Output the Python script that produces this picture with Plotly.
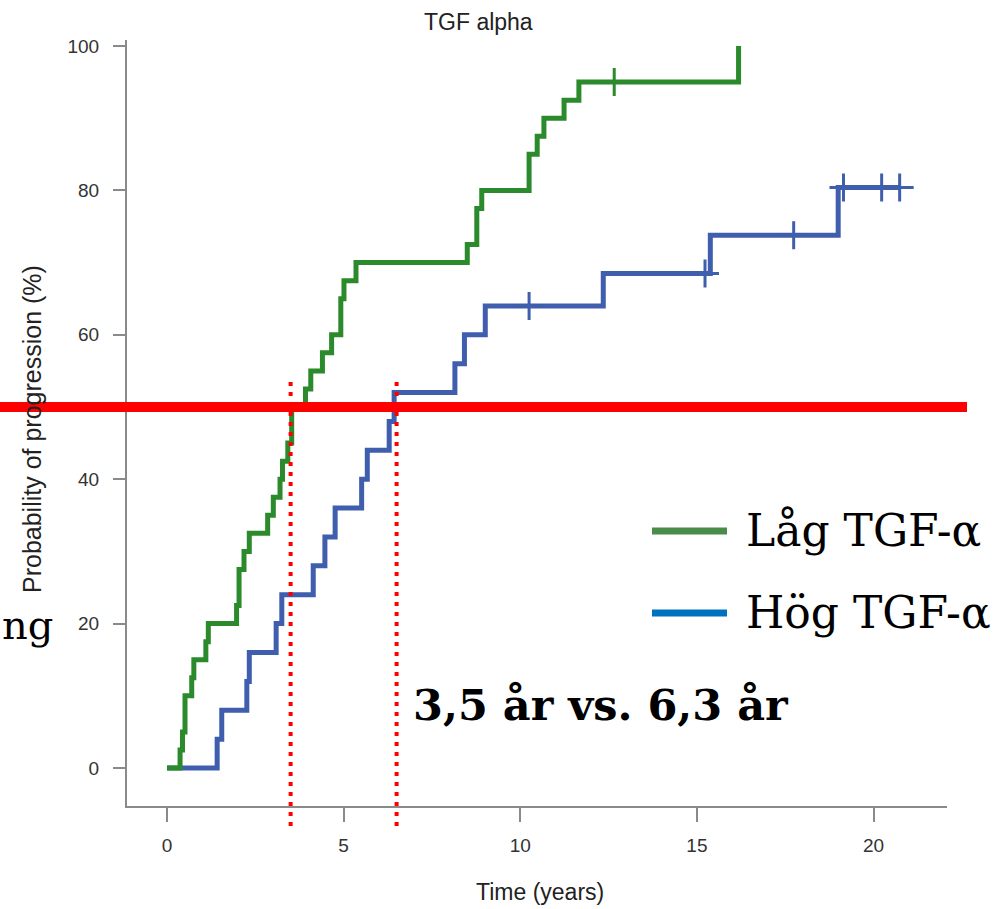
import plotly.graph_objects as go

# ---------------- data ----------------
green_t = [0, 0.37, 0.44, 0.51, 0.70, 0.76, 1.10, 1.17, 1.97, 2.04, 2.18, 2.33, 2.85, 3.01,
           3.20, 3.27, 3.42, 3.53, 3.92, 4.07, 4.40, 4.66, 4.92, 5.01, 5.35, 8.50, 8.77,
           8.91, 10.25, 10.48, 10.67, 11.24, 11.66, 16.18]
green_p = [0, 2.5, 5, 10, 12.5, 15, 17.5, 20, 22.5, 27.5, 30, 32.5, 35, 37.5,
           40, 42.5, 45, 50, 52.5, 55, 57.5, 60, 65, 67.5, 70, 72.5, 77.5,
           80, 85, 87.5, 90, 92.5, 95, 100]
green_cens_t = [12.66]

blue_t = [0, 1.42, 1.55, 2.26, 2.33, 3.09, 3.25, 4.14, 4.47, 4.76, 5.51, 5.67, 6.29, 6.43,
          8.15, 8.42, 9.01, 12.35, 15.38, 19.0, 20.74]
blue_p = [0, 4, 8, 12, 16, 20, 24, 28, 32, 36, 40, 44, 48, 52,
          56, 60, 64, 68.5, 73.8, 80.4, 80.4]
blue_cens_t = [10.25, 15.23, 17.74, 19.15, 20.23, 20.74]

x_ticks = [0, 5, 10, 15, 20]
y_ticks = [0, 20, 40, 60, 80, 100]

median_low = 3.5
median_high = 6.5
threshold = 50

title_text = "TGF alpha"
x_title = "Time (years)"
y_title = "Probability of progression (%)"
legend_labels = ["Låg TGF-α", "Hög TGF-α"]
median_text = "3,5 år vs. 6,3 år"
cut_text = "ng"

# ---------------- layout geometry ----------------
W, H = 1004, 909
L, R, T, B = 127, 947, 40, 806  # plot area in px
x_range = [-1.132, 22.08]
y_range = [-5.26, 100.83]

GREEN = "#2B8A2B"
BLUE = "#3F5EAD"
AXIS = "#8a8a8a"


def px_x(px):
    return (px - L) / (R - L)


def px_y(py):
    return (B - py) / (B - T)


def dx(v):
    return (v - x_range[0]) / (x_range[1] - x_range[0])


def dy(v):
    return (v - y_range[0]) / (y_range[1] - y_range[0])


def step_value(ts, ps, t):
    val = ps[0]
    for ti, pi in zip(ts, ps):
        if ti <= t:
            val = pi
    return val


fig = go.Figure()

fig.add_trace(go.Scatter(x=blue_t, y=blue_p, mode="lines", line=dict(color=BLUE, width=5, shape="hv"),
                         showlegend=False, hoverinfo="skip"))
fig.add_trace(go.Scatter(x=green_t, y=green_p, mode="lines", line=dict(color=GREEN, width=5, shape="hv"),
                         showlegend=False, hoverinfo="skip"))
fig.add_trace(go.Scatter(x=blue_cens_t, y=[step_value(blue_t, blue_p, t) for t in blue_cens_t],
                         mode="markers", marker=dict(symbol="cross-thin", size=20,
                                                     line=dict(color=BLUE, width=3)),
                         showlegend=False, hoverinfo="skip", cliponaxis=False))
fig.add_trace(go.Scatter(x=green_cens_t, y=[step_value(green_t, green_p, t) for t in green_cens_t],
                         mode="markers", marker=dict(symbol="cross-thin", size=20,
                                                     line=dict(color=GREEN, width=3)),
                         showlegend=False, hoverinfo="skip", cliponaxis=False))

tickfont = dict(family="Liberation Sans, Arial, sans-serif", size=19, color="#333333")
fig.update_xaxes(range=x_range, tickvals=x_ticks, showgrid=False, zeroline=False,
                 showline=True, linecolor=AXIS, linewidth=2, ticks="outside", ticklen=14,
                 tickwidth=2, tickcolor=AXIS, tickfont=tickfont, ticklabelstandoff=7)
fig.update_yaxes(range=y_range, tickvals=y_ticks, showgrid=False, zeroline=False,
                 showline=True, linecolor=AXIS, linewidth=2, ticks="outside", ticklen=12,
                 tickwidth=2, tickcolor=AXIS, tickfont=tickfont, ticklabelstandoff=10)

shapes = []
# red threshold line
shapes.append(dict(type="line", xref="paper", yref="paper", x0=px_x(0), x1=px_x(967),
                   y0=dy(threshold), y1=dy(threshold), line=dict(color="#FF0000", width=10)))
# dotted median lines
for m in (median_low, median_high):
    shapes.append(dict(type="line", xref="paper", yref="paper", x0=dx(m), x1=dx(m),
                       y0=px_y(826), y1=px_y(382),
                       line=dict(color="#FF0000", width=4, dash="4px,6px")))
# legend swatches
shapes.append(dict(type="line", xref="paper", yref="paper", x0=px_x(652), x1=px_x(727),
                   y0=px_y(531), y1=px_y(531), line=dict(color="#4A8C4A", width=7)))
shapes.append(dict(type="line", xref="paper", yref="paper", x0=px_x(652), x1=px_x(727),
                   y0=px_y(613), y1=px_y(613), line=dict(color="#0070C0", width=7)))

serif = "DejaVu Serif, Liberation Serif, serif"
sans = "Liberation Sans, Arial, sans-serif"
annotations = [
    dict(text=title_text, x=px_x(478), y=px_y(22), xref="paper", yref="paper", showarrow=False,
         xanchor="center", yanchor="middle", font=dict(family=sans, size=23, color="#222222")),
    dict(text=x_title, x=px_x(540), y=px_y(892), xref="paper", yref="paper", showarrow=False,
         xanchor="center", yanchor="middle", font=dict(family=sans, size=23, color="#222222")),
    dict(text=y_title, x=px_x(32), y=px_y(429), xref="paper", yref="paper", showarrow=False,
         textangle=-90, xanchor="center", yanchor="middle",
         font=dict(family=sans, size=25, color="#222222")),
    dict(text=legend_labels[0], x=px_x(744), y=px_y(530), xref="paper", yref="paper", showarrow=False,
         xanchor="left", yanchor="middle", font=dict(family=serif, size=44, color="#000000")),
    dict(text=legend_labels[1], x=px_x(744), y=px_y(612), xref="paper", yref="paper", showarrow=False,
         xanchor="left", yanchor="middle", font=dict(family=serif, size=44, color="#000000")),
    dict(text="<b>" + median_text + "</b>", x=px_x(601), y=px_y(705), xref="paper", yref="paper",
         showarrow=False, xanchor="center", yanchor="middle",
         font=dict(family=serif, size=43, color="#000000")),
    dict(text=cut_text, x=px_x(55), y=px_y(625), xref="paper", yref="paper", showarrow=False,
         xanchor="right", yanchor="middle", font=dict(family=serif, size=40, color="#000000")),
]

fig.update_layout(width=W, height=H, margin=dict(l=L, r=W - R, t=T, b=H - B),
                  paper_bgcolor="white", plot_bgcolor="white", showlegend=False,
                  shapes=shapes, annotations=annotations)

fig.write_html("out.html", config={"displayModeBar": False},
               post_script="document.body.style.margin='0px';")
